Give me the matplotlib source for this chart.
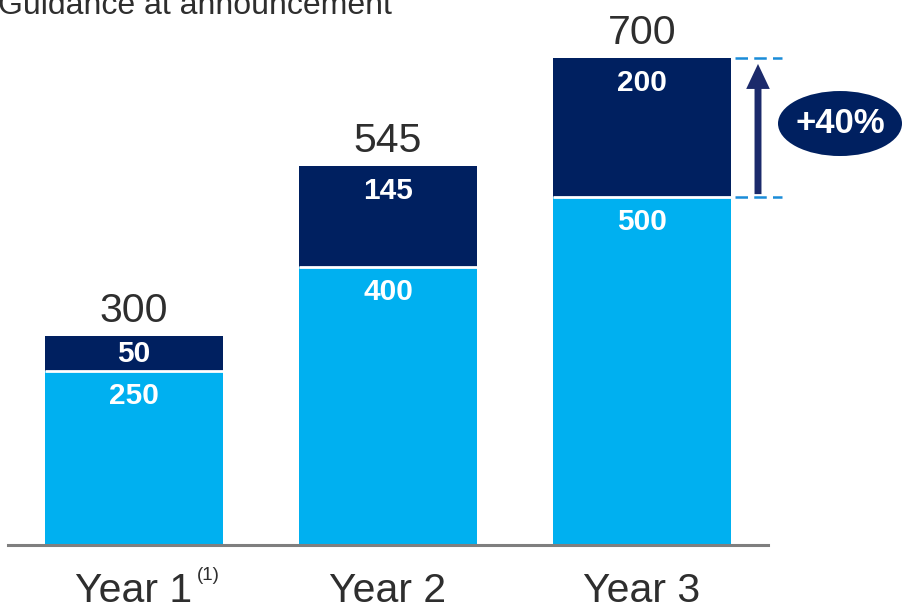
import matplotlib
matplotlib.use("Agg")
import matplotlib.pyplot as plt
from matplotlib.patches import Ellipse

plt.rcParams['font.family'] = ['Liberation Sans', 'DejaVu Sans']

categories = ["Year 1", "Year 2", "Year 3"]
base_values = [250, 400, 500]
top_values = [50, 145, 200]
totals = [300, 545, 700]
growth_label = "+40%"
title = "Guidance at announcement"
footnote = "(1)"

LIGHT = "#00B0F0"
NAVY = "#002060"
ARROW = "#1B2A6B"
DASH = "#1A8CD8"
TEXT = "#2E2E2E"

W, H = 903, 605
fig = plt.figure(figsize=(W / 100, H / 100), dpi=100)
ax = fig.add_axes([0, 60 / H, 1, 545 / H])
ax.set_xlim(-134 / 254, (W - 134) / 254)
ax.set_ylim(0, 545 / 0.6958)
ax.axis("off")

x = list(range(len(categories)))
bw = 178 / 254
ax.bar(x, base_values, width=bw, color=LIGHT, linewidth=0)
ax.bar(x, top_values, bottom=base_values, width=bw, color=NAVY, linewidth=0)
# white separators
for xi, b in zip(x, base_values):
    ax.plot([xi - bw / 2, xi + bw / 2], [b, b], color="white", lw=2, solid_capstyle="butt")

# baseline
ax.axhline(0, xmin=8 / W, xmax=768 / W, color="#7F7F7F", lw=2.2, clip_on=False)

# totals
for xi, t in zip(x, totals):
    ax.annotate(str(t), xy=(xi, t), xytext=(0, 14), textcoords="offset pixels",
                ha="center", va="baseline", fontsize=29.5, color=TEXT)

# segment labels
for xi, b, tv in zip(x, base_values, top_values):
    top = b + tv
    if tv * 0.6958 < 46:
        ax.text(xi, b + tv / 2, str(tv), ha="center", va="center", fontsize=21.5,
                fontweight="bold", color="white")
    else:
        ax.annotate(str(tv), xy=(xi, top), xytext=(0, -25), textcoords="offset pixels",
                    ha="center", va="center", fontsize=21.5, fontweight="bold", color="white")
    ax.annotate(str(b), xy=(xi, b), xytext=(0, -25), textcoords="offset pixels",
                ha="center", va="center", fontsize=21.5, fontweight="bold", color="white")

# category labels
trans = ax.get_xaxis_transform()
cat_texts = []
for xi, c in zip(x, categories):
    t = ax.text(xi, -57 / 545, c, transform=trans, ha="center", va="baseline",
                fontsize=29.5, color=TEXT)
    cat_texts.append(t)
ax.annotate(footnote, xy=(1, 1), xycoords=cat_texts[0], xytext=(4, 5),
            textcoords="offset pixels", ha="left", va="top", fontsize=13.5, color=TEXT)

# growth arrow and dashed guides
i3 = len(x) - 1
xa = x[i3] + bw / 2 + 27 / 254
xd0 = x[i3] + bw / 2 + 4 / 254
xd1 = xd0 + 47 / 254
for yv in (base_values[i3], totals[i3]):
    ax.plot([xd0, xd1], [yv, yv], color=DASH, lw=1.8, ls=(0, (5, 2.5)), clip_on=False)
ax.annotate("", xy=(xa, totals[i3] - 6 / 0.6958), xytext=(xa, base_values[i3] + 3 / 0.6958),
            arrowprops=dict(width=5, headwidth=17, headlength=18, color=ARROW, lw=0, shrink=0))

ex = x[i3] + 198 / 254
ey = (base_values[i3] + totals[i3]) / 2 + 4 / 0.6958
ell = Ellipse((ex, ey), width=124 / 254, height=65 / 0.6958, facecolor=NAVY,
              edgecolor="none", clip_on=False)
ax.add_patch(ell)
ax.text(ex, ey, growth_label, ha="center", va="center", fontsize=25,
        fontweight="bold", color="white")

fig.text(-2 / W, 1 - 14 / H, title, ha="left", va="baseline", fontsize=23, color=TEXT)

fig.savefig("out.png", dpi=100)
